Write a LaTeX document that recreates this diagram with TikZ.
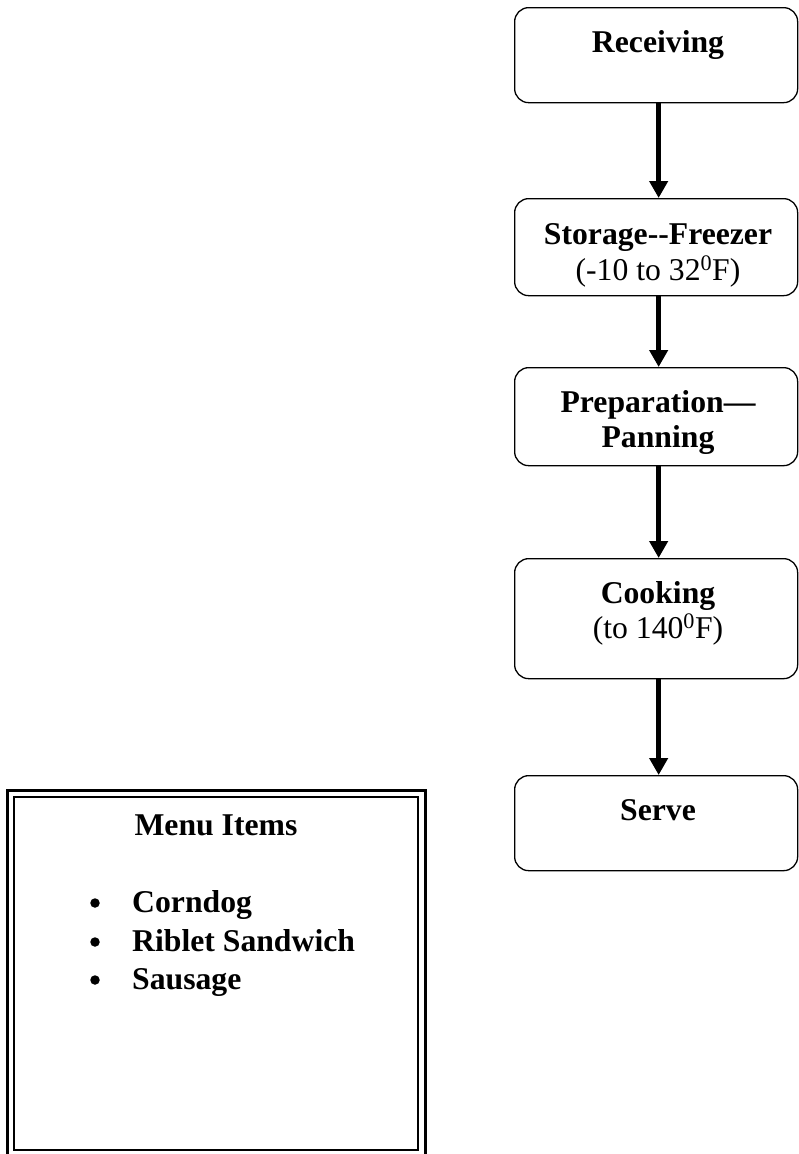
\documentclass[tikz,border=0pt]{standalone}
\usepackage{fontspec}
\newfontfamily\tnr{Liberation Serif}
\usetikzlibrary{arrows.meta}

\begin{document}
\begin{tikzpicture}[x=1pt,y=-1pt,
  stepbox/.style={draw, line width=1.3pt, rounded corners=14pt, inner sep=0pt,
                  minimum width=283pt, anchor=north west},
  flow/.style={line width=5pt, -{Triangle[width=18pt,length=17pt]}},
  head/.style={anchor=base, inner sep=0pt, font=\tnr\fontsize{31.7}{36}\selectfont\bfseries},
  sub/.style={anchor=base, inner sep=0pt, font=\tnr\fontsize{31.7}{36}\selectfont},
  item/.style={anchor=base west, inner sep=0pt, font=\tnr\fontsize{31.7}{36}\selectfont\bfseries},
  dot/.style={circle, fill, inner sep=0pt, minimum size=9.5pt}
]
\useasboundingbox (0,0) rectangle (798,1154);

% process steps
\node[stepbox, minimum height=95pt]  (recv) at (514,7)   {};
\node[stepbox, minimum height=97pt]  (stor) at (514,198) {};
\node[stepbox, minimum height=98pt]  (prep) at (514,367) {};
\node[stepbox, minimum height=120pt] (cook) at (514,558) {};
\node[stepbox, minimum height=95pt]  (serv) at (514,775) {};

\node[head] (recv-t)  at (658,52)  {Receiving};
\node[head] (stor-t)  at (658,244) {Storage-\kern0pt-Freezer};
\node[sub]  (stor-s)  at (658,280) {(-10 to 32\textsuperscript{0}F)};
\node[head] (prep-t)  at (658,412) {Preparation—};
\node[head] (prep-t2) at (658,447) {Panning};
\node[head] (cook-t)  at (658,603) {Cooking};
\node[sub]  (cook-s)  at (658,638) {(to 140\textsuperscript{0}F)};
\node[head] (serv-t)  at (658,820) {Serve};

% connectors
\draw[flow] ([xshift=2.5pt]recv.south) -- ([xshift=2.5pt]stor.north);
\draw[flow] ([xshift=2.5pt]stor.south) -- ([xshift=2.5pt]prep.north);
\draw[flow] ([xshift=2.5pt]prep.south) -- ([xshift=2.5pt]cook.north);
\draw[flow] ([xshift=2.5pt]cook.south) -- ([xshift=2.5pt]serv.north);

% menu panel with double border
\draw[line width=3pt] (7,790) rectangle (425,1157);
\draw[line width=1.5pt] (14,797) rectangle (418,1150);

\node[head] (menu-t) at (216,835) {Menu Items};
\node[dot] (b1) at (95,903) {};
\node[dot] (b2) at (95,942) {};
\node[dot] (b3) at (95,980) {};
\node[item] (i1) at (132,912) {Corndog};
\node[item] (i2) at (132,951) {Riblet Sandwich};
\node[item] (i3) at (132,989) {Sausage};
\end{tikzpicture}
\end{document}
